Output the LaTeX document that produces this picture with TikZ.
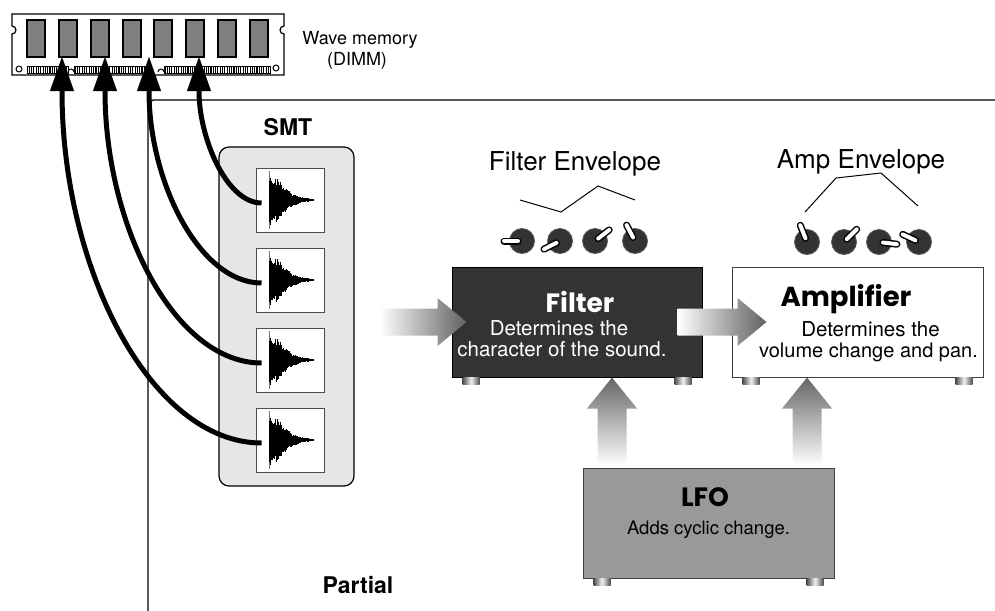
\documentclass[tikz,border=0pt]{standalone}
\usepackage{fontspec}
\setmainfont{TeX Gyre Heros}
\newfontfamily\heavyfont{Poppins}
\usetikzlibrary{arrows.meta,calc,shadings}

\definecolor{panelgray}{HTML}{E6E6E6}
\definecolor{filterfill}{HTML}{333333}
\definecolor{lfofill}{HTML}{999999}
\definecolor{chipgray}{HTML}{7F7F7F}
\definecolor{knobfill}{HTML}{333333}

\tikzset{
  frame/.style={line width=1.3pt, rounded corners=6pt},
  chip/.style={draw=black, line width=1.1pt, fill=chipgray, minimum width=18pt,
    minimum height=37pt, inner sep=0pt},
  smtpanel/.style={draw=black, line width=1.2pt, fill=panelgray, rounded corners=10pt,
    minimum width=135pt, minimum height=339pt, inner sep=0pt},
  wavebox/.style={draw=black!70, line width=0.9pt, fill=white, minimum width=68pt,
    minimum height=64pt, inner sep=0pt},
  unitbox/.style={line width=1pt, minimum width=251pt, minimum height=110pt, inner sep=0pt},
  foot/.style={left color=black!70, right color=black!70, middle color=black!5},
  knob/.style={circle, fill=knobfill, draw=black!65, line width=0.8pt,
    minimum size=25pt, inner sep=0pt},
  memarrow/.style={line width=5pt, -{Triangle[length=34pt, width=24pt, line width=0.1pt]}},
  envline/.style={line width=1pt},
  lbl/.style={font=\fontsize{26}{30}\selectfont, inner sep=0pt, anchor=base},
  small/.style={font=\fontsize{18}{21}\selectfont, inner sep=0pt, anchor=base},
  desc/.style={font=\fontsize{20.5}{24}\selectfont, inner sep=0pt, anchor=base},
  title/.style={font=\heavyfont\bfseries\fontsize{26.5}{30}\selectfont, inner sep=0pt, anchor=base},
  hdr/.style={font=\bfseries\fontsize{23}{27}\selectfont, inner sep=0pt, anchor=base},
  wave/.pic={
    \pgfmathsetseed{4242}
    \draw[black!55, line width=0.7pt] (-21,-29) -- (-21,29);
    \foreach \i in {0,...,88} {
      \pgfmathsetmacro\xx{-21+\i*0.5}
      \pgfmathsetmacro\env{(\i*0.5<3) ? 27 : ((\i*0.5<9) ? 22 : 22*exp(-(\i*0.5-9)/12))}
      \pgfmathsetmacro\up{\env*(0.55+0.45*rnd)}
      \pgfmathsetmacro\dn{\env*(0.55+0.45*rnd)}
      \draw[line width=0.6pt] (\xx,-\up) -- (\xx,\dn);
    }
    \draw[line width=1.4pt] (-21,0) -- (23,0);
  }
}

% fat shaded arrow: style, from, to, shaft half width, head half width, head length
\newcommand\gradarrow[6]{%
  \coordinate (ga-neck) at ($(#3)!#6!(#2)$);
  \path[#1] ($(#2)!#4!90:(#3)$) -- ($(ga-neck)!#4!90:(#3)$) -- ($(ga-neck)!#5!90:(#3)$)
    -- (#3) -- ($(ga-neck)!#5!-90:(#3)$) -- ($(ga-neck)!#4!-90:(#3)$)
    -- ($(#2)!#4!-90:(#3)$) -- cycle;}

% two feet under a unit box
\newcommand\unitfeet[1]{%
  \path[foot] ($(#1.south west)+(11,0)$) rectangle ++(17,7);
  \path[foot] ($(#1.south east)+(-28,0)$) rectangle ++(17,7);}

% knob with a pointer: name, position, pointer angle
\newcommand\knob[3]{%
  \node[knob] (#1) at (#2) {};
  \draw[line width=7pt, line cap=round] (#1.center) ++(#3:4) -- ++(#3:14);
  \draw[white, line width=4pt, line cap=round] (#1.center) ++(#3:4) -- ++(#3:14);}

\begin{document}
\begin{tikzpicture}[x=1pt,y=-1pt]
\useasboundingbox (0,0) rectangle (995,610);

% partial frame
\draw[frame] (148,612) -- (148,100) -- (998,100);
\node[hdr] (partial) at (358,593) {Partial};

% wave memory module
\draw[line width=1.2pt, fill=white] (12,14) -- (284,14) -- (284,26)
  arc[start angle=270, end angle=90, radius=4] -- (284,75) -- (12,75) -- (12,34)
  arc[start angle=90, end angle=-90, radius=4] -- cycle;
\foreach \n/\x in {1/36,2/68,3/100,4/132,5/163,6/195,7/227,8/259}
  \node[chip] (chip\n) at (\x,38.5) {};
\begin{scope}
  \clip (27,66) rectangle (68,73) (74,66) rectangle (145,73) (164,66) rectangle (270,73);
  \fill[white] (27,66) rectangle (270,73);
  \foreach \x in {27,29.3,...,271} \draw[line width=1.1pt] (\x,66) -- (\x,73);
\end{scope}
\draw[line width=1pt] (27,66) rectangle (68,73) (74,66) rectangle (145,73) (164,66) rectangle (270,73);
\draw[line width=1pt] (68,72) arc[start angle=180, end angle=360, radius=3];
\draw[line width=1pt] (158,72) arc[start angle=180, end angle=360, radius=3];
\draw[line width=1pt] (19,69) circle[radius=3] (276,68) circle[radius=3];
\node[small] (wm1) at (360,45) {Wave memory};
\node[small] (wm2) at (357,65) {(DIMM)};

% SMT panel with its four waves
\node[hdr] (smtlabel) at (288,135) {SMT};
\node[smtpanel] (smt) at (286.5,316.5) {};
\foreach \n/\y in {1/200,2/280,3/360,4/440} {
  \node[wavebox] (w\n) at (290,\y) {};
  \pic at (w\n.center) {wave};
}

% wave read-out arrows
\foreach \n/\x in {1/62,2/105,3/149,4/199} \coordinate (t\n) at (\x,57);
\draw[memarrow] ($(w4.west)+(6,3)$) .. controls +(-110,0) and +(0,213) .. (t1);
\draw[memarrow] ($(w3.west)+(6,3)$) .. controls +(-87,0) and +(0,169) .. (t2);
\draw[memarrow] ($(w2.west)+(6,3)$) .. controls +(-62,0) and +(0,125) .. (t3);
\draw[memarrow] ($(w1.west)+(6,3)$) .. controls +(-35,0) and +(0,81) .. (t4);

% envelopes and knobs
\node[lbl] (fenv) at (575,170) {Filter Envelope};
\draw[envline] (520,200) -- (561,212) -- (598,186) -- (635,200);
\node[lbl] (aenv) at (861,168) {Amp Envelope};
\draw[envline] (805,212) -- (836,178) -- (881,173) -- (918,206);
\knob{fk1}{522,241}{180}
\knob{fk2}{560,241}{153}
\knob{fk3}{595,241}{322}
\knob{fk4}{635,241}{242}
\knob{ak1}{807,242}{248}
\knob{ak2}{844,242}{315}
\knob{ak3}{879,242}{7}
\knob{ak4}{919,242}{205}

% units
\node[unitbox, fill=filterfill, draw=black, minimum width=250pt] (filter) at (577,322) {};
\unitfeet{filter}
\node[unitbox, fill=white, draw=black!75] (amp) at (857.5,322) {};
\unitfeet{amp}
\node[unitbox, fill=lfofill, draw=black!75] (lfo) at (708.5,523) {};
\unitfeet{lfo}

% signal flow
\coordinate (feedin) at ($(filter.west)+(-72,0)$);
\coordinate (filterin) at ($(filter.west)+(15,0)$);
\coordinate (filterout) at ($(filter.east)+(-25,0)$);
\coordinate (ampin) at ($(amp.west)+(35,0)$);
\coordinate (lfoA) at ($(lfo.north west)+(29.5,-2)$);
\coordinate (lfoB) at ($(lfo.north east)+(-27.5,-2)$);
\coordinate (filterbase) at (lfoA |- filter.south);
\coordinate (ampbase) at (lfoB |- amp.south);
\gradarrow{left color=white, right color=black!62}{feedin}{filterin}{13.5pt}{24pt}{29pt}
\gradarrow{left color=white, right color=black!62}{filterout}{ampin}{13.5pt}{24pt}{29pt}
\gradarrow{bottom color=white, top color=black!60}{lfoA}{filterbase}{14.5pt}{25pt}{31pt}
\gradarrow{bottom color=white, top color=black!60}{lfoB}{ampbase}{14.5pt}{25pt}{31pt}

% unit texts
\node[title, white] (ftitle) at ($(filter.center)+(3,-10)$) {Filter};
\node[desc, white] (fd1) at ($(filter.center)+(-18,13)$) {Determines the};
\node[desc, white] (fd2) at ($(filter.center)+(-15,34)$) {character of the sound.};
\node[title, font=\heavyfont\bfseries\fontsize{27.5}{31}\selectfont] (atitle) at ($(amp.center)+(-11.5,-16)$) {Amplifier};
\node[desc] (ad1) at ($(amp.center)+(13,14.5)$) {Determines the};
\node[desc, font=\fontsize{20}{24}\selectfont] (ad2) at ($(amp.center)+(11,35)$) {volume change and pan.};
\node[title] (ltitle) at ($(lfo.center)+(-3.5,-17)$) {LFO};
\node[desc, font=\fontsize{18.5}{22}\selectfont] (ld1) at ($(lfo.center)+(0,11)$) {Adds cyclic change.};
\end{tikzpicture}
\end{document}
